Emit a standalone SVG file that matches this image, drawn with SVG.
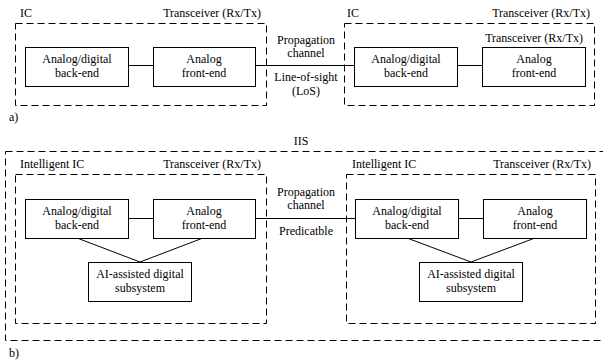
<svg xmlns="http://www.w3.org/2000/svg" width="603" height="364" viewBox="0 0 603 364" font-family="'Liberation Serif', 'Times New Roman', Times, serif">
<style>
text{font-family:'Liberation Serif','Times New Roman',Times,serif;font-size:12px;fill:#000}
.m{text-anchor:middle}
.e{text-anchor:end}
.box{fill:#fff;stroke:#000;stroke-width:1}
.dash{fill:none;stroke:#000;stroke-width:1;stroke-dasharray:7 4}
.ln{fill:none;stroke:#000;stroke-width:1}
</style>
<rect width="603" height="364" fill="#fff"/>

<!-- Part a -->
<g id="a-ic-left">
<rect class="dash" x="15.5" y="23.5" width="251" height="82"/>
<text x="20" y="17">IC</text>
<text class="e" x="261" y="17">Transceiver (Rx/Tx)</text>
</g>
<g id="a-ic-right">
<rect class="dash" x="344.5" y="23.5" width="250" height="82"/>
<text x="347" y="17">IC</text>
<text class="e" x="590" y="17">Transceiver (Rx/Tx)</text>
<text class="e" x="583" y="42">Transceiver (Rx/Tx)</text>
</g>
<g id="a-connectors">
<line class="ln" x1="128" y1="65.5" x2="153" y2="65.5"/>
<line class="ln" x1="255" y1="65.5" x2="354" y2="65.5"/>
<line class="ln" x1="457" y1="65.5" x2="482" y2="65.5"/>
</g>
<g id="a-backend-left">
<rect class="box" x="25.5" y="47.5" width="103" height="39"/>
<text class="m" x="77" y="63">Analog/digital</text>
<text class="m" x="77" y="77">back-end</text>
</g>
<g id="a-frontend-left">
<rect class="box" x="153.5" y="47.5" width="102" height="39"/>
<text class="m" x="204" y="63">Analog</text>
<text class="m" x="204" y="77">front-end</text>
</g>
<g id="a-backend-right">
<rect class="box" x="354.5" y="47.5" width="103" height="39"/>
<text class="m" x="406" y="63">Analog/digital</text>
<text class="m" x="406" y="77">back-end</text>
</g>
<g id="a-frontend-right">
<rect class="box" x="482.5" y="47.5" width="103" height="39"/>
<text class="m" x="534" y="63">Analog</text>
<text class="m" x="534" y="77">front-end</text>
</g>
<g id="a-channel">
<text class="m" x="306" y="44">Propagation</text>
<text class="m" x="306" y="57">channel</text>
<text class="m" x="306" y="81">Line-of-sight</text>
<text class="m" x="306" y="95">(LoS)</text>
</g>
<text x="9" y="121">a)</text>

<!-- Part b -->
<g id="b-iis">
<rect class="dash" x="5.5" y="151.5" width="610" height="189"/>
<text class="m" x="301" y="145">IIS</text>
</g>
<g id="b-ic-left">
<rect class="dash" x="15.5" y="174.5" width="251" height="149"/>
<text x="20" y="168">Intelligent IC</text>
<text class="e" x="261" y="168">Transceiver (Rx/Tx)</text>
</g>
<g id="b-ic-right">
<rect class="dash" x="346.5" y="174.5" width="249" height="149"/>
<text x="352" y="168">Intelligent IC</text>
<text class="e" x="591" y="168">Transceiver (Rx/Tx)</text>
</g>
<g id="b-connectors">
<line class="ln" x1="128" y1="218.5" x2="153" y2="218.5"/>
<line class="ln" x1="255" y1="218.5" x2="355" y2="218.5"/>
<line class="ln" x1="458" y1="218.5" x2="483" y2="218.5"/>
<polyline class="ln" points="77,238 140,262 203,238"/>
<polyline class="ln" points="407,238 471,262 535,238"/>
</g>
<g id="b-backend-left">
<rect class="box" x="25.5" y="199.5" width="103" height="39"/>
<text class="m" x="77" y="215">Analog/digital</text>
<text class="m" x="77" y="229">back-end</text>
</g>
<g id="b-frontend-left">
<rect class="box" x="153.5" y="199.5" width="102" height="39"/>
<text class="m" x="204" y="215">Analog</text>
<text class="m" x="204" y="229">front-end</text>
</g>
<g id="b-ai-left">
<rect class="box" x="88.5" y="262.5" width="103" height="39"/>
<text class="m" x="140" y="278">AI-assisted digital</text>
<text class="m" x="140" y="292">subsystem</text>
</g>
<g id="b-backend-right">
<rect class="box" x="355.5" y="199.5" width="103" height="39"/>
<text class="m" x="407" y="215">Analog/digital</text>
<text class="m" x="407" y="229">back-end</text>
</g>
<g id="b-frontend-right">
<rect class="box" x="483.5" y="199.5" width="103" height="39"/>
<text class="m" x="535" y="215">Analog</text>
<text class="m" x="535" y="229">front-end</text>
</g>
<g id="b-ai-right">
<rect class="box" x="419.5" y="262.5" width="103" height="39"/>
<text class="m" x="471" y="278">AI-assisted digital</text>
<text class="m" x="471" y="292">subsystem</text>
</g>
<g id="b-channel">
<text class="m" x="306" y="196">Propagation</text>
<text class="m" x="306" y="209">channel</text>
<text class="m" x="306" y="235">Predicatble</text>
</g>
<text x="9" y="357">b)</text>
</svg>
